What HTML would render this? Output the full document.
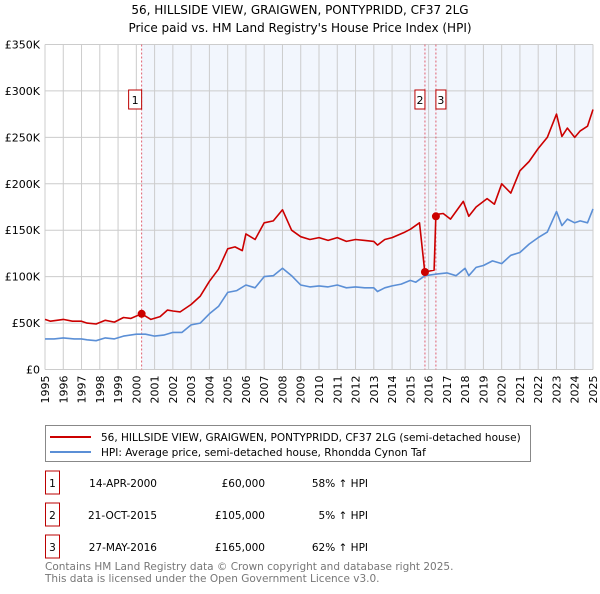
<!DOCTYPE html>
<html><head><meta charset="utf-8"><style>
body{margin:0;background:#fff;font-family:"DejaVu Sans","Liberation Sans",sans-serif;}
svg text{font-family:"DejaVu Sans","Liberation Sans",sans-serif;}
</style></head><body>
<svg id="c" width="600" height="590" xmlns="http://www.w3.org/2000/svg">
<text x="300" y="14" text-anchor="middle" font-size="12" fill="#000">56, HILLSIDE VIEW, GRAIGWEN, PONTYPRIDD, CF37 2LG</text>
<text x="300" y="32" text-anchor="middle" font-size="12" fill="#000">Price paid vs. HM Land Registry's House Price Index (HPI)</text>
<g id="plot"></g>
<g>
<rect x="45.5" y="425.5" width="485" height="36" fill="#fff" stroke="#888"/>
<line x1="50" y1="437" x2="91" y2="437" stroke="#cc0000" stroke-width="2"/>
<text x="101" y="441" font-size="10.5">56, HILLSIDE VIEW, GRAIGWEN, PONTYPRIDD, CF37 2LG (semi-detached house)</text>
<line x1="50" y1="452" x2="91" y2="452" stroke="#5b8fd6" stroke-width="2"/>
<text x="101" y="456" font-size="10.5">HPI: Average price, semi-detached house, Rhondda Cynon Taf</text>
</g>
<g id="tbl" font-size="10.5"></g>
<text x="45" y="570" font-size="10.5" fill="#777">Contains HM Land Registry data © Crown copyright and database right 2025.</text>
<text x="45" y="582" font-size="10.5" fill="#777">This data is licensed under the Open Government Licence v3.0.</text>
</svg>
<script>
const yTicks=[0,50,100,150,200,250,300,350];
const yTickLabels=["£0","£50K","£100K","£150K","£200K","£250K","£300K","£350K"];
const years=[1995,1996,1997,1998,1999,2000,2001,2002,2003,2004,2005,2006,2007,2008,2009,2010,2011,2012,2013,2014,2015,2016,2017,2018,2019,2020,2021,2022,2023,2024,2025];
const hpiT=[1995,1995.5,1996,1996.6,1997,1997.3,1997.8,1998.3,1998.8,1999.3,2000,2000.5,2001,2001.5,2002,2002.5,2003,2003.5,2004,2004.5,2005,2005.5,2006,2006.5,2007,2007.5,2008,2008.5,2009,2009.5,2010,2010.5,2011,2011.5,2012,2012.5,2013,2013.2,2013.6,2014,2014.5,2015,2015.3,2015.8,2016.5,2017,2017.5,2018,2018.2,2018.6,2019,2019.5,2020,2020.5,2021,2021.5,2022,2022.5,2023,2023.3,2023.6,2024,2024.3,2024.7,2025];
const hpiV=[33,33,34,33,33,32,31,34,33,36,38,38,36,37,40,40,48,50,60,68,83,85,91,88,100,101,109,101,91,89,90,89,91,88,89,88,88,84,88,90,92,96,94,101,103,104,101,109,101,110,112,117,114,123,126,135,142,148,170,155,162,158,160,158,173];
const redT=[1995,1995.3,1996,1996.5,1997,1997.3,1997.8,1998.3,1998.8,1999.3,1999.7,2000.29,2000.8,2001.3,2001.7,2002,2002.4,2003,2003.5,2004,2004.5,2005,2005.4,2005.8,2006,2006.5,2007,2007.5,2008,2008.5,2009,2009.5,2010,2010.5,2011,2011.5,2012,2012.5,2013,2013.2,2013.6,2014,2014.7,2015,2015.5,2015.79,2016.3,2016.4,2016.8,2017.2,2017.9,2018.2,2018.6,2019.2,2019.6,2020,2020.5,2021,2021.5,2022,2022.5,2023,2023.3,2023.6,2024,2024.3,2024.7,2025];
const redV=[54,52,54,52,52,50,49,53,51,56,55,60,54,57,64,63,62,70,79,95,108,130,132,128,146,140,158,160,172,150,143,140,142,139,142,138,140,139,138,134,140,142,148,151,158,105,107,167,168,162,181,165,175,184,178,200,190,214,224,238,250,275,251,260,250,257,262,280];
const sales=[{t:2000.29,v:60,n:"1"},{t:2015.8,v:105,n:"2"},{t:2016.4,v:165,n:"3"}];
const rows=[["1","14-APR-2000","£60,000","58% ↑ HPI"],["2","21-OCT-2015","£105,000","5% ↑ HPI"],["3","27-MAY-2016","£165,000","62% ↑ HPI"]];
const NS="http://www.w3.org/2000/svg";
const X0=45,X1=593,Y0=369.5,Y1=44.5;
const xs=t=>X0+(t-1995)/30*(X1-X0);
const ys=v=>Y0-v/350*(Y0-Y1);
function mk(tag,at,par){const e=document.createElementNS(NS,tag);for(const k in at)e.setAttribute(k,at[k]);par.appendChild(e);return e;}
const p=document.getElementById('plot');
let r=mk('rect',{x:xs(2000.29),y:Y1,width:X1-xs(2000.29),height:Y0-Y1,fill:'#f2f6fd'},p);


years.forEach(y=>{const l=mk('line',{x1:xs(y),x2:xs(y),y1:Y1,y2:Y0,stroke:'#ccc','stroke-width':1},p);


const tx=xs(y)+4,ty=Y0+6;
const t=mk('text',{x:tx,y:ty,'font-size':11,'text-anchor':'end',transform:`rotate(-90 ${tx} ${ty})`},p);t.textContent=y;

});
yTicks.forEach((v,i)=>{const l=mk('line',{x1:X0,x2:X1,y1:ys(v),y2:ys(v),stroke:'#ccc','stroke-width':1},p);


const t=mk('text',{x:40,y:ys(v)+4,'font-size':11,'text-anchor':'end'},p);t.textContent=yTickLabels[i];

});
sales.forEach(s=>{const l=mk('line',{x1:xs(s.t),x2:xs(s.t),y1:Y1,y2:Y0,stroke:'#e06070','stroke-width':1,'stroke-dasharray':'2,2'},p);

});
function path(T,V,col,name){const d=T.map((t,i)=>(i?'L':'M')+xs(t).toFixed(1)+' '+ys(V[i]).toFixed(1)).join('');
const e=mk('path',{d:d,fill:'none',stroke:col,'stroke-width':1.6,'stroke-linejoin':'round'},p);

}
path(hpiT,hpiV,'#5b8fd6','hpi-line');
path(redT,redV,'#cc0000','property-price-line');
sales.forEach((s,i)=>{const c=mk('circle',{cx:xs(s.t),cy:ys(s.v),r:4,fill:'#cc0000'},p);


const bx=i==0?xs(s.t)-13:(i==1?xs(s.t)-10:xs(s.t));
const b=mk('rect',{x:bx,y:90,width:i==0?13:10,height:19,fill:'#fff',stroke:'#bb0000'},p);


const t=mk('text',{x:bx+(i==0?6.5:5),y:104,'font-size':11,'text-anchor':'middle'},p);t.textContent=s.n;

});
const tb=document.getElementById('tbl');
rows.forEach((rw,i)=>{const y=483+i*32;
const b=mk('rect',{x:45.5,y:y-12,width:14,height:23,fill:'#fff',stroke:'#bb0000'},tb);


const cells=[[52.5,'middle'],[157,'end'],[265,'end'],[368,'end']];
rw.forEach((v,j)=>{const t=mk('text',{x:cells[j][0],y:y+4,'text-anchor':cells[j][1]},tb);t.textContent=v;

});});
</script>
</body></html>
